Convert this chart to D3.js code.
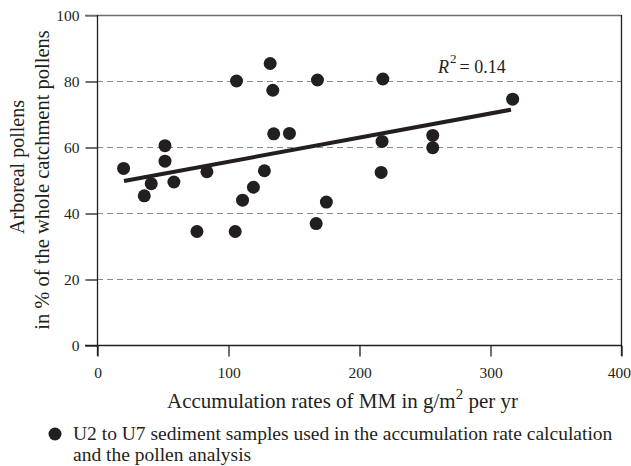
<!DOCTYPE html>
<html><head><meta charset="utf-8">
<script src="https://cdn.jsdelivr.net/npm/d3@7"></script>
<style>body{margin:0;background:#fff}svg{display:block}text{font-family:"Liberation Serif","Times New Roman",serif;fill:#231f20}</style>
</head><body>
<script>
const accumRates = [20.3, 36.1, 41.4, 51.9, 51.9, 58.7, 83.9, 76.3, 106.5, 105.5, 111.1, 119.4, 127.8, 132.2, 134.2, 134.9, 146.9, 168.3, 167.3, 218.2, 317.3, 217.6, 256.3, 256.3, 216.9, 175.1];
const arborealPct = [53.5, 45.2, 48.9, 60.4, 55.7, 49.4, 52.5, 34.4, 80.0, 34.4, 43.9, 47.8, 52.8, 85.3, 77.2, 64.0, 64.1, 80.3, 36.8, 80.6, 74.5, 61.7, 63.5, 59.8, 52.3, 43.3];
const trendX = [20.6, 316];
const trendY = [49.7, 71.3];
const xTicks = [0, 100, 200, 300, 400];
const yTicks = [0, 20, 40, 60, 80, 100];
const gridTicks = [20, 40, 60, 80];
const rSquared = "0.14";

const W = 631, H = 466;
const svg = d3.select("body").append("svg").attr("width", W).attr("height", H);
const x = d3.scaleLinear().domain([0, 400]).range([97, 621]);
const y = d3.scaleLinear().domain([0, 100]).range([345, 15]);
const ink = "#231f20";

// gridlines
svg.append("g").selectAll("line").data(gridTicks).join("line")
  .attr("x1", x(0)).attr("x2", x(400))
  .attr("y1", d => y(d) + 0.5).attr("y2", d => y(d) + 0.5)
  .attr("stroke", "#8a8a8a").attr("stroke-width", 1).attr("stroke-dasharray", "6,4");

// top border (grey)
svg.append("line").attr("x1", 85).attr("x2", x(400)).attr("y1", y(100) + 0.5).attr("y2", y(100) + 0.5)
  .attr("stroke", "#6d6e71").attr("stroke-width", 1.3);
// right border
svg.append("line").attr("x1", x(400) + 0.5).attr("x2", x(400) + 0.5).attr("y1", y(100)).attr("y2", y(0) + 11)
  .attr("stroke", ink).attr("stroke-width", 1.3);

// axes
const yAxis = svg.append("g").attr("transform", `translate(${x(0) + 0.5},0.5)`)
  .call(d3.axisLeft(y).tickValues(yTicks).tickSize(12).tickPadding(6).tickFormat(d3.format("d")));
const xAxis = svg.append("g").attr("transform", `translate(0.5,${y(0) + 0.5})`)
  .call(d3.axisBottom(x).tickValues(xTicks).tickSize(11).tickPadding(10).tickFormat(d3.format("d")));
[yAxis, xAxis].forEach(g => {
  g.select(".domain").remove();
  g.selectAll(".tick line").attr("stroke", ink).attr("stroke-width", 1.3);
  g.selectAll(".tick text").attr("font-family", "Liberation Serif").attr("font-size", 15.5).attr("fill", ink);
});
yAxis.selectAll(".tick").filter(d => d === 100).select("line").attr("stroke", "#6d6e71");
xAxis.selectAll(".tick").filter(d => d === 400).select("text").attr("text-anchor", "end").attr("x", 9);
// axis lines
svg.append("line").attr("x1", x(0) + 0.5).attr("x2", x(0) + 0.5).attr("y1", y(100)).attr("y2", y(0) + 11)
  .attr("stroke", ink).attr("stroke-width", 1.3);
svg.append("line").attr("x1", 85).attr("x2", x(400)).attr("y1", y(0) + 0.5).attr("y2", y(0) + 0.5)
  .attr("stroke", ink).attr("stroke-width", 1.3);

// points
svg.append("g").selectAll("circle").data(accumRates.map((v, i) => [v, arborealPct[i]])).join("circle")
  .attr("cx", d => x(d[0])).attr("cy", d => y(d[1])).attr("r", 6.5).attr("fill", ink);

// trend line
svg.append("line").attr("x1", x(trendX[0])).attr("y1", y(trendY[0])).attr("x2", x(trendX[1])).attr("y2", y(trendY[1]))
  .attr("stroke", ink).attr("stroke-width", 4);

// R^2 label
const r2 = svg.append("text").attr("x", 438).attr("y", 73).attr("font-size", 18);
r2.append("tspan").attr("font-style", "italic").text("R");
r2.append("tspan").attr("font-size", 13).attr("dy", -10).attr("dx", 1).text("2");
r2.append("tspan").attr("dy", 10).attr("dx", 3).text("= " + rSquared);

// y title
svg.append("text").attr("transform", "translate(24,167) rotate(-90)").attr("text-anchor", "middle")
  .attr("font-size", 20).text("Arboreal pollens");
svg.append("text").attr("transform", "translate(49,180) rotate(-90)").attr("text-anchor", "middle")
  .attr("font-size", 20.5).text("in % of the whole catchment pollens");

// x title
const xt = svg.append("text").attr("x", 167).attr("y", 408).attr("font-size", 21);
xt.append("tspan").text("Accumulation rates of MM in g/m");
xt.append("tspan").attr("font-size", 15).attr("dy", -9).text("2");
xt.append("tspan").attr("dy", 9).text(" per yr");

// legend
svg.append("circle").attr("cx", 55).attr("cy", 434).attr("r", 6.5).attr("fill", ink);
svg.append("text").attr("x", 73).attr("y", 440).attr("font-size", 19.5)
  .text("U2 to U7 sediment samples used in the accumulation rate calculation");
svg.append("text").attr("x", 73).attr("y", 461).attr("font-size", 19.5)
  .text("and the pollen analysis");
</script>
</body></html>
